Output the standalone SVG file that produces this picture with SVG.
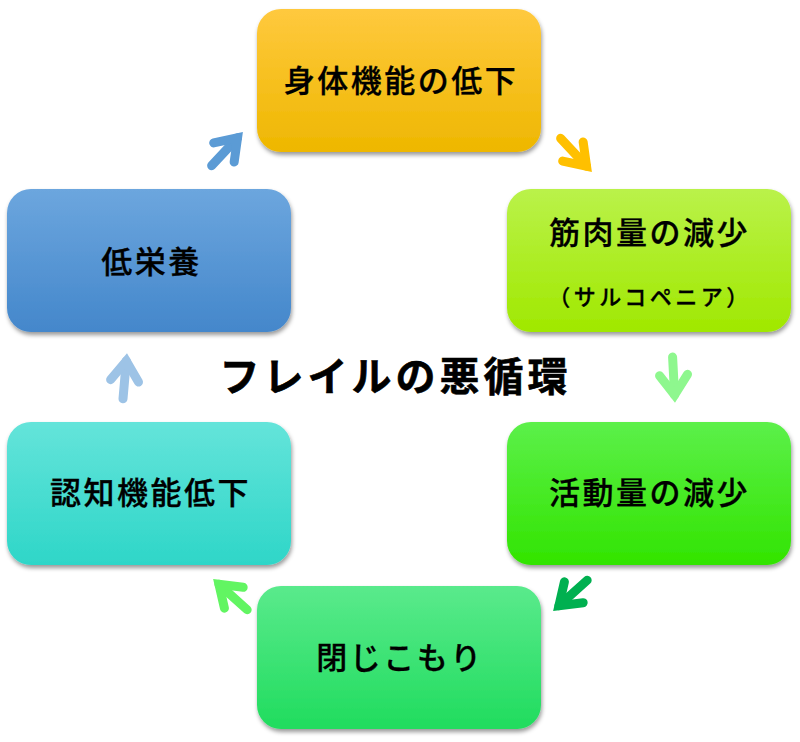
<svg xmlns="http://www.w3.org/2000/svg" width="800" height="742" viewBox="0 0 800 742">
<style>
.node text{font-family:"Noto Sans CJK JP","Noto Sans CJK SC",sans-serif;font-size:31px;font-weight:500;letter-spacing:2.5px;fill:#000;stroke:#000;stroke-width:0.3px;text-anchor:middle;dominant-baseline:central}
.node rect{filter:url(#sh)}
.title{font-family:"Noto Sans CJK JP","Noto Sans CJK SC",sans-serif;font-size:40px;font-weight:bold;letter-spacing:4px;fill:#000;stroke:#000;stroke-width:0.6px;text-anchor:middle;dominant-baseline:central}
.node text.sub{font-size:22px;letter-spacing:3.5px;stroke-width:0.3px}
</style>
<defs>
<filter id="sh" x="-10%" y="-10%" width="125%" height="130%">
<feDropShadow dx="1" dy="3" stdDeviation="2" flood-color="#000" flood-opacity="0.4"/>
</filter>
<linearGradient id="g1" x1="0" y1="0" x2="0" y2="1"><stop offset="0" stop-color="#FFC93E"/><stop offset="1" stop-color="#EEB700"/></linearGradient>
<linearGradient id="g2" x1="0" y1="0" x2="0" y2="1"><stop offset="0" stop-color="#BAF24A"/><stop offset="1" stop-color="#A0E800"/></linearGradient>
<linearGradient id="g3" x1="0" y1="0" x2="0" y2="1"><stop offset="0" stop-color="#5CF04A"/><stop offset="1" stop-color="#32E400"/></linearGradient>
<linearGradient id="g4" x1="0" y1="0" x2="0" y2="1"><stop offset="0" stop-color="#5AEA8C"/><stop offset="1" stop-color="#20DC5E"/></linearGradient>
<linearGradient id="g5" x1="0" y1="0" x2="0" y2="1"><stop offset="0" stop-color="#64E4DA"/><stop offset="1" stop-color="#2ED6C8"/></linearGradient>
<linearGradient id="g6" x1="0" y1="0" x2="0" y2="1"><stop offset="0" stop-color="#6CA6DE"/><stop offset="1" stop-color="#4487CB"/></linearGradient>
<g id="arr" fill="none" stroke-width="9">
<path d="M0,8 L0,46" stroke-linecap="round"/>
<path d="M-14,28 L0,8 L14,28" stroke-linecap="round" stroke-linejoin="miter" stroke-miterlimit="10"/>
</g>
</defs>
<rect width="800" height="742" fill="#fff"/>
<g id="connectors">
<use href="#arr" stroke="#5B9BD5" transform="translate(243,132) rotate(43)"/>
<use href="#arr" stroke="#FFC000" transform="translate(592,172) rotate(137)"/>
<use href="#arr" stroke="#8EF78E" transform="translate(675,403) rotate(177)"/>
<use href="#arr" stroke="#00B050" transform="translate(553,611) rotate(-132)"/>
<use href="#arr" stroke="#62F562" transform="translate(213,579) rotate(-48)"/>
<use href="#arr" stroke="#9DC3E6" transform="translate(127,353) rotate(5)"/>
</g>
<g id="n1" class="node"><rect x="257" y="9" width="284" height="143" rx="24" fill="url(#g1)"/><text x="401" y="78">身体機能の低下</text></g>
<g id="n2" class="node"><rect x="507" y="189" width="284" height="143" rx="24" fill="url(#g2)"/><text x="649.5" y="230">筋肉量の減少</text><text class="sub" x="650" y="295">（サルコペニア）</text></g>
<g id="n3" class="node"><rect x="507" y="422" width="284" height="143" rx="24" fill="url(#g3)"/><text x="649.5" y="490">活動量の減少</text></g>
<g id="n4" class="node"><rect x="257" y="586" width="284" height="143" rx="24" fill="url(#g4)"/><text x="400" y="655">閉じこもり</text></g>
<g id="n5" class="node"><rect x="7" y="422" width="284" height="143" rx="24" fill="url(#g5)"/><text x="150.5" y="490">認知機能低下</text></g>
<g id="n6" class="node"><rect x="7" y="189" width="284" height="143" rx="24" fill="url(#g6)"/><text x="151.5" y="259">低栄養</text></g>
<text class="title" x="395.5" y="374">フレイルの悪循環</text>
</svg>
